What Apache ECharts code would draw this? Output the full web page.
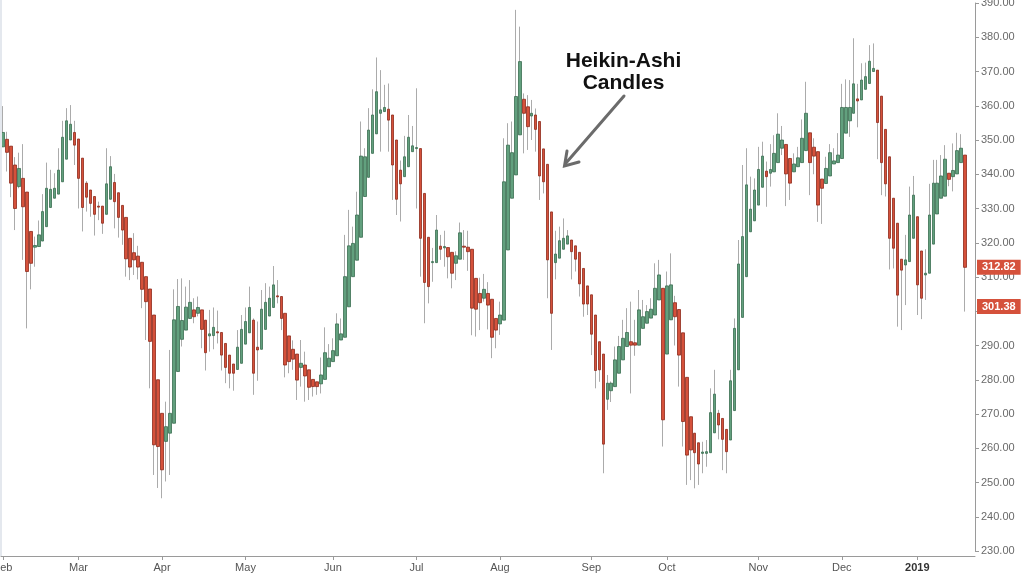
<!DOCTYPE html>
<html>
<head>
<meta charset="utf-8">
<script src="https://cdn.jsdelivr.net/npm/echarts@6/dist/echarts.min.js"></script>
<style>
html,body{margin:0;padding:0;background:#fff;}
#chart{width:1024px;height:576px;}
</style>
</head>
<body>
<div id="chart"></div>
<script>
// Heikin-Ashi candle values (open, close, low, high), one per trading day from 2018-02-01
const haOpen = [
348.0,350.2,348.2,342.7,336.4,338.8,334.8,323.3,318.7,318.9,
320.5,324.7,330.3,333.0,334.2,337.8,344.4,350.0,352.2,350.3,
344.7,337.4,335.4,333.5,330.7,330.7,328.3,332.7,337.6,334.6,
330.9,327.4,321.3,317.1,316.1,314.3,310.1,306.5,298.9,280.0,
270.2,262.0,264.4,267.3,282.4,291.8,294.5,297.9,300.4,299.4,
300.4,297.4,292.8,292.9,294.0,293.8,290.6,287.2,284.6,283.0,
284.8,290.4,293.7,297.4,289.5,288.9,294.7,298.6,301.1,304.5,
304.3,299.4,292.8,288.9,287.5,283.6,284.3,282.9,280.1,279.4,
278.8,280.1,283.8,285.3,287.0,291.6,292.4,301.3,310.1,314.9,
321.6,333.5,339.1,346.1,351.8,357.8,358.3,359.0,357.3,350.0,
341.2,339.3,342.2,346.6,347.5,347.5,334.4,321.6,314.2,314.2,
319.0,318.5,318.6,317.2,314.0,315.2,319.0,318.7,318.1,309.6,
305.2,303.8,305.2,303.5,297.9,296.3,297.4,317.9,333.0,339.8,
351.5,361.9,359.7,357.0,357.3,355.4,347.4,342.9,329.0,314.2,
315.5,318.1,319.6,320.8,319.1,317.2,312.5,307.4,304.8,298.9,
291.1,287.5,274.3,276.8,278.0,281.9,285.8,289.7,291.1,290.8,
290.1,295.0,296.5,298.0,298.9,303.3,306.7,287.5,297.5,302.5,
300.5,293.7,280.7,269.2,264.4,261.6,258.5,258.5,258.7,264.5,
270.2,268.7,265.5,262.4,271.0,282.9,298.2,310.1,323.2,326.4,
331.0,336.2,340.9,340.3,340.7,343.4,347.6,348.7,344.6,340.7,
342.2,343.4,346.9,352.1,347.9,346.6,338.6,337.3,339.5,343.0,
343.4,344.6,352.0,355.6,357.8,362.0,361.7,364.8,366.5,370.0,
370.4,362.8,353.1,345.1,333.0,325.7,315.2,313.5,314.5,321.3,
327.6,317.6,310.6,311.1,319.6,328.4,333.0,333.6,340.3,339.3,
340.1,343.4,345.6];
const haClose = [
352.2,346.4,337.4,330.0,341.7,330.5,311.6,314.0,319.2,322.3,
329.1,335.9,335.6,335.9,341.2,350.8,355.6,354.6,348.5,338.8,
330.3,333.3,331.5,328.3,330.4,325.7,337.2,342.2,332.0,327.4,
323.7,315.3,312.9,315.0,312.9,306.4,302.8,291.2,261.0,260.5,
253.7,266.3,270.2,297.5,301.4,297.3,301.2,302.6,298.4,301.1,
294.7,287.9,293.4,295.3,293.7,287.2,283.6,281.9,281.9,289.5,
294.7,297.0,301.1,281.9,288.7,300.6,302.6,303.8,307.7,304.2,
297.9,284.3,285.3,286.0,279.9,284.8,281.1,277.8,278.0,278.0,
281.4,287.9,286.3,288.5,296.3,293.4,310.1,319.1,319.8,328.1,
345.3,345.1,352.9,357.3,364.1,358.8,359.5,355.8,342.7,332.7,
337.2,345.1,350.8,348.3,347.8,321.3,308.4,307.2,314.5,323.7,
318.1,318.9,315.9,311.1,316.2,322.9,318.7,317.4,300.9,300.6,
302.5,306.4,301.8,292.4,294.5,298.9,337.8,348.5,346.3,362.7,
372.9,357.8,353.9,357.8,353.1,339.5,337.8,315.0,299.4,316.7,
320.6,321.3,322.0,317.4,315.2,308.0,302.1,302.1,293.3,282.7,
282.9,261.2,279.0,279.0,285.8,289.7,292.1,293.8,290.1,290.1,
300.4,298.4,299.9,300.6,306.7,310.6,268.3,307.4,307.7,298.4,
287.2,267.8,258.0,259.5,258.7,255.4,258.9,259.0,270.4,275.8,
266.8,262.6,259.0,279.7,295.0,313.8,321.8,336.9,329.8,335.4,
341.4,345.3,339.3,341.4,346.1,351.7,350.0,340.1,337.4,343.0,
344.8,350.5,357.8,343.4,345.3,331.0,335.9,341.7,346.3,343.9,
345.6,359.5,359.5,359.5,366.4,361.4,367.5,368.5,373.0,370.9,
355.1,343.4,337.2,321.3,318.4,304.7,312.0,315.0,328.1,333.9,
307.7,303.8,311.1,328.1,337.4,337.4,339.5,344.4,338.5,341.1,
346.9,347.6,312.82];
const haLow = [
348.0,340.8,333.3,323.7,335.9,315.0,295.0,306.4,313.0,318.9,
320.5,324.7,330.3,333.0,334.2,337.8,344.4,350.0,342.7,330.0,
323.3,329.1,327.6,322.1,326.6,322.6,328.3,332.7,324.2,321.5,
319.4,310.1,309.1,310.6,309.3,300.9,291.6,277.5,252.2,248.4,
245.4,250.3,252.2,267.3,282.4,289.7,294.5,297.9,296.5,298.5,
289.2,282.7,288.2,288.9,290.6,282.7,279.0,277.5,276.8,283.0,
284.8,290.4,293.7,275.6,279.7,288.9,294.7,298.6,301.1,302.3,
294.5,280.7,281.9,282.9,274.1,278.0,273.6,274.1,275.1,275.6,
276.0,280.1,283.8,285.3,287.0,291.6,292.4,301.3,310.1,314.9,
321.6,333.5,339.1,346.1,351.8,346.6,358.3,346.6,332.5,328.1,
326.2,339.3,342.2,346.6,330.0,310.1,296.5,302.3,308.6,314.2,
315.0,313.0,309.6,306.7,309.1,315.2,315.0,311.8,293.0,292.6,
294.5,302.8,294.7,286.3,289.2,293.1,297.4,317.9,333.0,339.8,
351.5,346.1,347.1,350.0,346.6,332.5,334.4,303.8,288.7,309.3,
315.5,318.1,319.6,309.3,311.6,304.3,298.4,298.9,287.2,277.5,
279.4,252.7,271.2,273.5,278.0,281.9,285.8,289.7,276.0,287.0,
290.1,295.0,296.5,298.0,298.9,303.3,260.5,287.5,297.5,290.0,
278.0,260.5,249.3,250.7,248.3,249.3,252.7,254.6,258.7,264.5,
262.6,253.6,252.7,262.4,271.0,282.9,298.2,310.1,323.2,326.4,
331.0,336.2,330.5,336.4,340.7,343.4,345.6,330.7,332.5,340.7,
342.2,343.4,346.9,333.9,340.0,326.1,325.5,337.3,339.5,343.0,
343.4,344.6,352.0,350.9,357.8,353.7,361.7,364.8,366.5,370.0,
344.4,333.9,333.5,312.2,312.5,295.5,294.5,301.8,314.5,321.3,
298.9,297.7,303.3,311.1,319.6,328.4,333.0,333.6,336.5,335.0,
340.1,343.4,299.9];
const haHigh = [
359.9,352.4,348.2,345.0,346.3,348.8,334.8,323.3,321.8,326.5,
334.2,343.4,341.3,340.3,347.6,355.6,359.3,360.2,355.6,350.3,
344.7,338.0,335.4,333.5,332.0,330.7,347.6,345.3,340.1,334.6,
330.9,327.4,321.3,322.8,319.1,314.3,310.1,306.5,298.9,280.0,
270.2,273.6,288.7,306.4,309.4,309.6,307.2,309.1,303.8,304.3,
300.4,297.4,300.4,301.1,300.2,293.8,290.6,287.2,284.6,294.5,
298.9,301.1,307.2,297.9,297.0,306.2,308.2,307.2,313.2,309.1,
304.3,299.4,292.8,291.5,287.5,291.6,288.2,282.9,280.1,279.4,
286.5,295.3,290.4,292.1,299.4,297.9,322.3,329.6,324.7,334.9,
355.4,347.6,359.3,364.8,374.1,370.4,366.1,366.5,357.3,350.0,
344.0,351.2,357.3,354.1,365.1,347.5,334.4,321.6,318.5,328.1,
322.3,323.5,318.6,317.2,317.5,325.9,323.7,323.5,318.1,309.6,
309.8,310.9,308.5,303.5,297.9,302.8,350.5,354.9,355.4,388.0,
383.1,363.6,363.1,361.7,359.2,355.4,347.4,342.9,329.0,323.5,
324.7,327.1,323.7,320.8,319.1,317.2,312.5,307.4,304.8,298.9,
291.1,287.5,281.4,279.5,289.7,292.8,297.5,300.9,302.8,297.5,
306.2,303.3,301.8,303.8,314.0,315.0,306.7,311.6,316.9,304.5,
300.5,293.7,280.7,269.2,264.4,261.6,261.9,262.4,277.5,282.9,
271.2,268.7,265.5,282.9,297.9,320.8,342.7,347.6,339.3,338.8,
348.0,349.5,343.7,348.8,351.4,357.8,354.1,348.7,344.6,346.1,
348.0,356.0,367.0,352.1,350.5,346.6,338.6,345.1,348.8,347.6,
352.0,366.4,367.7,367.5,379.7,366.4,372.4,372.6,377.7,378.2,
370.4,362.8,353.1,345.1,333.0,325.7,315.2,322.3,336.4,339.5,
327.6,317.6,318.1,337.2,344.2,344.2,345.6,348.5,340.3,349.0,
352.1,351.7,345.6];

// Price tags on the right axis
const priceTags = [312.82, 301.38];

// Calendar: first trading day, market holidays, trailing empty slots
const startDate = '2018-02-01';
const holidays = ['2018-02-19','2018-03-30','2018-05-28','2018-07-04','2018-09-03',
                  '2018-11-22','2018-12-05','2018-12-25','2019-01-01','2019-01-21'];
const emptySlots = 2;
const monthNames = ['Jan','Feb','Mar','Apr','May','Jun','Jul','Aug','Sep','Oct','Nov','Dec'];

// Y axis ticks
const yMin = 230, yMax = 390, yStep = 10;

// ---- build trading-day categories ----
const dates = [];
(function () {
  const d = new Date(startDate + 'T00:00:00Z');
  const total = haOpen.length + emptySlots;
  while (dates.length < total) {
    const wd = d.getUTCDay();
    const s = d.toISOString().slice(0, 10);
    if (wd !== 0 && wd !== 6 && holidays.indexOf(s) < 0) dates.push(s);
    d.setUTCDate(d.getUTCDate() + 1);
  }
})();

function isMonthStart(i) {
  if (i === 0) return true;
  return dates[i].slice(0, 7) !== dates[i - 1].slice(0, 7);
}

const wickData = haOpen.map((o, i) => [o, haClose[i], haLow[i], haHigh[i]]);
const bodyData = haOpen.map((o, i) => [o, haClose[i], Math.min(o, haClose[i]), Math.max(o, haClose[i])]);

const chart = echarts.init(document.getElementById('chart'), null, {renderer: 'canvas'});
const option = {
  animation: false,
  backgroundColor: '#ffffff',
  textStyle: {fontFamily: '"Liberation Sans", Arial, sans-serif'},
  grid: {left: 1, right: 49, top: 3, bottom: 25, containLabel: false, outerBoundsMode: 'none'},
  xAxis: {
    type: 'category',
    data: dates,
    boundaryGap: true,
    offset: 5,
    axisLine: {show: true, lineStyle: {color: '#9a9a9a', width: 1}},
    axisTick: {show: true, alignWithLabel: true, length: 4, interval: (i) => isMonthStart(i), lineStyle: {color: '#9a9a9a'}},
    axisLabel: {
      show: true,
      interval: (i) => isMonthStart(i),
      margin: 6,
      color: '#555',
      fontSize: 11,
      formatter: function (v) {
        const m = parseInt(v.slice(5, 7), 10) - 1;
        if (m === 0) return '{y|' + v.slice(0, 4) + '}';
        return monthNames[m];
      },
      rich: {y: {fontWeight: 'bold', color: '#333', fontSize: 11}}
    },
    splitLine: {show: false}
  },
  yAxis: {
    type: 'value',
    position: 'right',
    min: yMin,
    max: yMax,
    interval: yStep,
    scale: false,
    axisLine: {show: true, lineStyle: {color: '#9a9a9a', width: 1}},
    axisTick: {show: true, length: 4, lineStyle: {color: '#9a9a9a'}},
    axisLabel: {
      show: true,
      margin: 6,
      color: '#6a6a6a',
      fontSize: 11,
      formatter: (v) => v.toFixed(2)
    },
    splitLine: {show: false}
  },
  series: [
    {
      name: 'wicks',
      type: 'candlestick',
      data: wickData,
      barWidth: 1,
      silent: true,
      z: 2,
      itemStyle: {
        color: '#ababab', color0: '#ababab',
        borderColor: '#ababab', borderColor0: '#ababab', borderWidth: 1
      }
    },
    {
      name: 'Heikin-Ashi',
      type: 'candlestick',
      data: bodyData,
      barWidth: 3,
      silent: true,
      z: 3,
      itemStyle: {
        color: '#62a07e', color0: '#d5513b',
        borderColor: '#3a6d51', borderColor0: '#8e2a1b', borderWidth: 0.8
      },
      markLine: {
        silent: true,
        symbol: ['none', 'none'],
        z: 10,
        lineStyle: {color: 'rgba(0,0,0,0)', width: 1, type: 'solid'},
        label: {
          show: true,
          position: 'end',
          distance: 2,
          formatter: (p) => p.value.toFixed(2),
          backgroundColor: '#d5513b',
          color: '#ffffff',
          fontWeight: 'bold',
          fontSize: 11,
          padding: [2, 5, 2, 5]
        },
        data: priceTags.map(v => ({yAxis: v}))
      }
    }
  ],
  graphic: [
    {type: 'rect', left: 0, top: 0, z: 100, shape: {x: 0, y: 0, width: 2, height: 556}, style: {fill: '#e4e8ee'}},
    {type: 'text', x: 623.5, y: 61.5, z: 100, style: {text: 'Heikin-Ashi', font: 'bold 21px "Liberation Sans", Arial, sans-serif', fill: '#111', align: 'center', verticalAlign: 'middle'}},
    {type: 'text', x: 623.5, y: 83.5, z: 100, style: {text: 'Candles', font: 'bold 21px "Liberation Sans", Arial, sans-serif', fill: '#111', align: 'center', verticalAlign: 'middle'}},
    {type: 'line', z: 100, shape: {x1: 624, y1: 96, x2: 566, y2: 163}, style: {stroke: '#6b6b6b', lineWidth: 3, lineCap: 'round'}},
    {type: 'polyline', z: 100, shape: {points: [[567, 151], [564.5, 166], [579, 162]]}, style: {stroke: '#6b6b6b', lineWidth: 3, fill: null, lineCap: 'round', lineJoin: 'miter'}}
  ]
};
chart.setOption(option);
</script>
</body>
</html>
